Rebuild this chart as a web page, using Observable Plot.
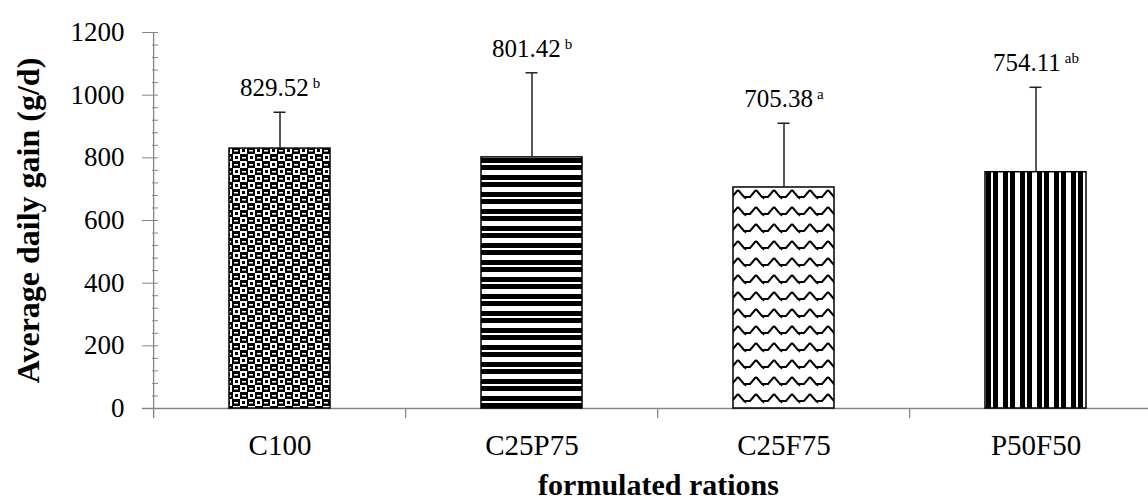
<!DOCTYPE html>
<html><head><meta charset="utf-8">
<script src="https://cdn.jsdelivr.net/npm/d3@7"></script>
<script src="https://cdn.jsdelivr.net/npm/@observablehq/plot@0.6"></script>
<style>body{margin:0;background:#fff}svg{display:block}</style>
</head><body><div id="chart"></div>
<script>
const categories = ["C100", "C25P75", "C25F75", "P50F50"];
const means = [829.52, 801.42, 705.38, 754.11];
const errors = [116, 270, 205, 271];
const letters = ["b", "b", "a", "ab"];
const yTicks = [0, 200, 400, 600, 800, 1000, 1200];
const yMinorTicks = d3.range(0, 1201, 40).filter(v => v % 200 !== 0);
const yTitle = "Average daily gain (g/d)";
const xTitle = "formulated rations";

const data = categories.map((cat, i) => ({cat, mean: means[i], err: errors[i], letter: letters[i]}));
const axisGray = "#868686";
const xRange = [152, 1163];
const step = (xRange[1] - xRange[0]) / categories.length;
const below = -32; // axis line extension below zero

const marks = [
  Plot.ruleY([0], {stroke: axisGray, strokeWidth: 1.3}),
  Plot.ruleX([categories[0]], {x: d => d, y1: below, y2: 1200, dx: -step / 2, stroke: axisGray, strokeWidth: 1.3}),
  Plot.ruleX(categories.slice(1), {x: d => d, y1: below, y2: 0, dx: -step / 2, stroke: axisGray, strokeWidth: 1.3}),
  Plot.axisY({ticks: yTicks, tickSize: 16, dx: 16, tickPadding: 18, label: null, stroke: axisGray, fontSize: 27, tickFormat: d => String(d)}),
  Plot.axisY({ticks: yMinorTicks, tickSize: 6, dx: 16, label: null, stroke: axisGray, tickFormat: () => ""}),
  Plot.axisX({tickSize: 0, tickPadding: 26, label: null, fontSize: 29})
];
categories.forEach((c, i) => {
  marks.push(Plot.barY(data.filter(d => d.cat === c), {x: "cat", y: "mean", fill: `url(#pat${i})`, stroke: "#000", strokeWidth: 1.5}));
});
marks.push(
  Plot.ruleX(data, {x: "cat", y1: "mean", y2: d => d.mean + d.err, stroke: "#222", strokeWidth: 1.5}),
  Plot.tickY(data, {x: "cat", y: d => d.mean + d.err, stroke: "#222", strokeWidth: 1.5, insetLeft: 44.5, insetRight: 44.5}),
  Plot.text(data, {x: "cat", y: d => d.mean + d.err, text: d => d.mean.toFixed(2), lineAnchor: "bottom", dy: -16, fontSize: 25}),
  Plot.text([yTitle], {text: d => d, frameAnchor: "left", textAnchor: "middle", lineAnchor: "middle", rotate: -90, dx: -114, fontWeight: "bold", fontSize: 32}),
  Plot.text([xTitle], {text: d => d, frameAnchor: "bottom", textAnchor: "middle", lineAnchor: "middle", dx: 13, dy: 77, fontWeight: "bold", fontSize: 30})
);

const svg = Plot.plot({
  width: 1148, height: 502,
  marginTop: 32, marginBottom: 94, marginLeft: 142, marginRight: 0,
  style: {fontFamily: "'Liberation Serif', 'Times New Roman', serif", fontSize: "24px", color: "#000", background: "#fff", overflow: "hidden"},
  x: {domain: categories, range: xRange, paddingInner: 0.6, paddingOuter: 0.3, axis: null},
  y: {domain: [0, 1200], axis: null},
  marks
});

// pattern definitions
const defs = d3.select(svg).insert("defs", ":first-child");
// checker (C100)
{
  const p = defs.append("pattern").attr("id", "pat0").attr("patternUnits", "userSpaceOnUse").attr("width", 15).attr("height", 14);
  p.append("rect").attr("width", 15).attr("height", 14).attr("fill", "#fff");
  p.append("rect").attr("x", 0).attr("y", 0).attr("width", 8).attr("height", 7).attr("fill", "#000");
  p.append("rect").attr("x", 7).attr("y", 7).attr("width", 8).attr("height", 7).attr("fill", "#000");
  p.append("rect").attr("x", 2).attr("y", 3).attr("width", 4).attr("height", 1.5).attr("fill", "#fff");
  p.append("rect").attr("x", 9).attr("y", 10).attr("width", 4).attr("height", 1.5).attr("fill", "#fff");
  p.append("rect").attr("x", 10).attr("y", 2).attr("width", 3).attr("height", 3).attr("fill", "#000");
  p.append("rect").attr("x", 2).attr("y", 9).attr("width", 3).attr("height", 3).attr("fill", "#000");
}
// horizontal stripes (C25P75)
{
  const p = defs.append("pattern").attr("id", "pat1").attr("patternUnits", "userSpaceOnUse").attr("width", 17).attr("height", 17);
  p.append("rect").attr("width", 17).attr("height", 17).attr("fill", "#fff");
  p.append("rect").attr("x", 0).attr("y", 5).attr("width", 17).attr("height", 5).attr("fill", "#000");
  p.append("rect").attr("x", 0).attr("y", 12).attr("width", 17).attr("height", 5).attr("fill", "#000");
}
// shingle (C25F75)
{
  const p = defs.append("pattern").attr("id", "pat2").attr("patternUnits", "userSpaceOnUse").attr("width", 18).attr("height", 17);
  p.append("rect").attr("width", 18).attr("height", 17).attr("fill", "#fff");
  p.append("path").attr("d", "M0,3 L6,10 L12,10 L18,3").attr("fill", "none").attr("stroke", "#000").attr("stroke-width", 2);
  p.append("path").attr("d", "M6,10 L8,12").attr("fill", "none").attr("stroke", "#000").attr("stroke-width", 1.5);
}
// vertical stripes (P50F50)
{
  const p = defs.append("pattern").attr("id", "pat3").attr("patternUnits", "userSpaceOnUse").attr("width", 17).attr("height", 17);
  p.append("rect").attr("width", 17).attr("height", 17).attr("fill", "#fff");
  p.append("rect").attr("x", 0).attr("y", 0).attr("width", 5).attr("height", 17).attr("fill", "#000");
  p.append("rect").attr("x", 7).attr("y", 0).attr("width", 5).attr("height", 17).attr("fill", "#000");
}

// superscript significance letters
d3.select(svg).selectAll("text").each(function() {
  const t = this.textContent;
  const i = means.findIndex(m => m.toFixed(2) === t);
  if (i >= 0) {
    d3.select(this).append("tspan").attr("dx", 4).attr("font-size", 15).attr("baseline-shift", "super").text(letters[i]);
  }
});

document.getElementById("chart").append(svg);
</script>
</body></html>
